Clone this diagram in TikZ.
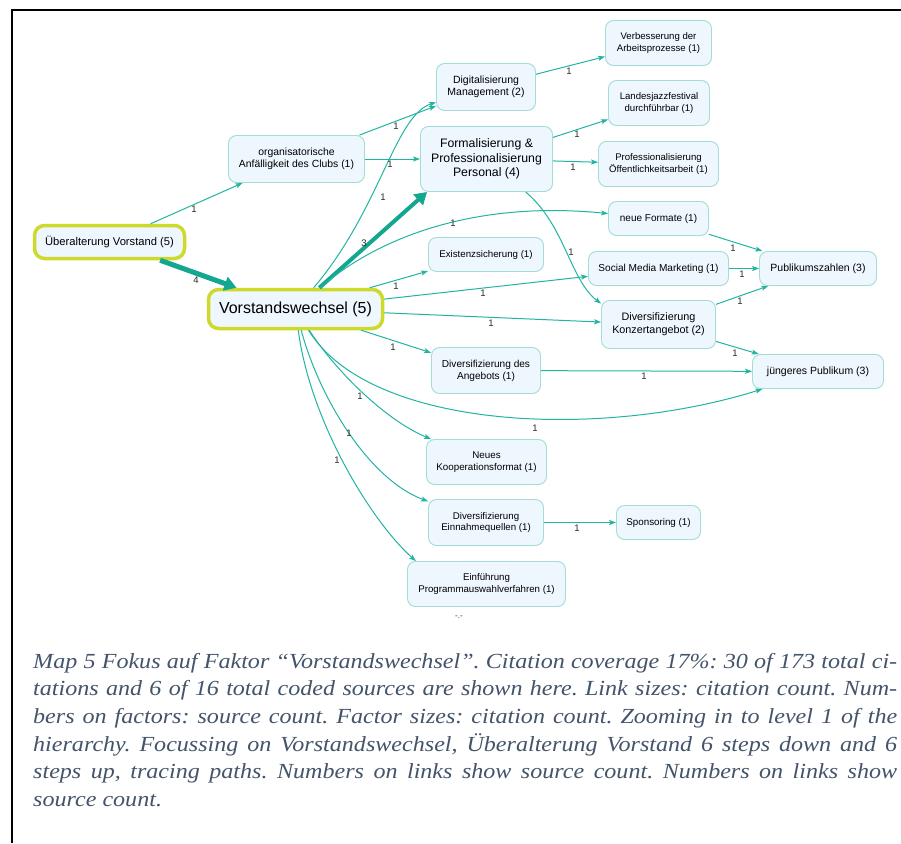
\documentclass[tikz,border=0pt]{standalone}
\usepackage{fontspec}
\setmainfont{Liberation Sans}
\newfontfamily\capfont[FakeStretch=1.12]{Liberation Serif}
\usetikzlibrary{arrows.meta}

\definecolor{linkcol}{HTML}{22B4A2}
\definecolor{linkdark}{HTML}{13A790}
\definecolor{boxline}{HTML}{A3DDD6}
\definecolor{boxfill}{HTML}{EEF6FE}
\definecolor{focuscol}{HTML}{CDD92B}
\definecolor{captext}{HTML}{44546A}
\definecolor{lblcol}{HTML}{2A2A2A}

\tikzset{
  factor/.style={draw=boxline, fill=boxfill, rounded corners=8pt, line width=0.9pt,
    align=center, inner sep=0pt, font=\fontsize{9.7}{11.6}\selectfont},
  focusfactor/.style={factor, draw=focuscol, line width=3.5pt, rounded corners=10pt},
  link/.style={draw=linkcol, line width=1pt,
    -{Stealth[length=7pt,width=5pt,inset=1.5pt]}},
  heavylink/.style={draw=linkdark, line width=#1,
    -{Triangle[length=12pt,width=14pt]}},
  lbl/.style={font=\fontsize{9.5}{9.5}\selectfont, text=lblcol, inner sep=0pt},
}

\begin{document}
\begin{tikzpicture}[x=1pt,y=-1pt]
\useasboundingbox (0,0) rectangle (901,843);
\fill[white] (0,0) rectangle (901,843);

% frame
\draw[line width=2.4pt] (12,843) -- (12,10) -- (901,10);

% factors
\node[focusfactor, minimum width=150pt, minimum height=33pt, font=\fontsize{11.2}{13}\selectfont] (ueber) at (109.5,242) {Überalterung Vorstand (5)};
\node[focusfactor, minimum width=174pt, minimum height=39pt, font=\fontsize{16}{19}\selectfont] (vw) at (295.5,309) {Vorstandswechsel (5)};
\node[factor, minimum width=136pt, minimum height=47pt, font=\fontsize{10.4}{12.6}\selectfont] (org) at (296.5,159) {organisatorische\\Anfälligkeit des Clubs (1)};
\node[factor, minimum width=99pt, minimum height=47pt, font=\fontsize{10.5}{12.4}\selectfont] (dig) at (486,87) {Digitalisierung\\Management (2)};
\node[factor, minimum width=132pt, minimum height=65pt, font=\fontsize{12.3}{14.7}\selectfont] (form) at (486.5,159) {Formalisierung \&\\Professionalisierung\\Personal (4)};
\node[factor, minimum width=106pt, minimum height=45pt, font=\fontsize{9.6}{11.6}\selectfont] (verb) at (658.5,43) {Verbesserung der\\Arbeitsprozesse (1)};
\node[factor, minimum width=101pt, minimum height=45pt, font=\fontsize{9.6}{11.6}\selectfont] (land) at (659,103) {Landesjazzfestival\\durchführbar (1)};
\node[factor, minimum width=120pt, minimum height=45pt, font=\fontsize{9.6}{11.6}\selectfont] (prof) at (658.5,164) {Professionalisierung\\Öffentlichkeitsarbeit (1)};
\node[factor, minimum width=100pt, minimum height=34pt, font=\fontsize{10}{12}\selectfont] (neue) at (658.5,218.5) {neue Formate (1)};
\node[factor, minimum width=115pt, minimum height=34pt] (exist) at (486,254.5) {Existenzsicherung (1)};
\node[factor, minimum width=140pt, minimum height=34pt, font=\fontsize{10.1}{12}\selectfont] (smm) at (658.5,268.5) {Social Media Marketing (1)};
\node[factor, minimum width=117pt, minimum height=34pt, font=\fontsize{10.5}{12.4}\selectfont] (pub) at (818,268.5) {Publikumszahlen (3)};
\node[factor, minimum width=114pt, minimum height=48pt, font=\fontsize{10.8}{12.8}\selectfont] (konz) at (658.5,324.5) {Diversifizierung\\Konzertangebot (2)};
\node[factor, minimum width=109pt, minimum height=46pt, font=\fontsize{10.1}{12}\selectfont] (angeb) at (486,370.5) {Diversifizierung des\\Angebots (1)};
\node[factor, minimum width=131pt, minimum height=34pt, font=\fontsize{10.5}{12.4}\selectfont] (jung) at (818,371.5) {jüngeres Publikum (3)};
\node[factor, minimum width=120pt, minimum height=45pt, font=\fontsize{9.8}{11.8}\selectfont] (koop) at (486.5,462) {Neues\\Kooperationsformat (1)};
\node[factor, minimum width=115pt, minimum height=46pt] (einn) at (486,522.5) {Diversifizierung\\Einnahmequellen (1)};
\node[factor, minimum width=84pt, minimum height=34pt, font=\fontsize{9.8}{11.8}\selectfont] (spons) at (658.5,522.5) {Sponsoring (1)};
\node[factor, minimum width=158pt, minimum height=45pt] (einf) at (486.5,584) {Einführung\\Programmauswahlverfahren (1)};

% links
\draw[link] (ueber) -- (org);
\draw[heavylink=5pt] (ueber) -- (vw);
\draw[link] (org) -- (dig);
\draw[link] (org) -- (form);
\draw[link] (vw) .. controls (380,210) and (395,115) .. (dig);
\draw[heavylink=4pt] (vw) -- (form.209);
\draw[link] (vw) .. controls (375,240) and (470,200) .. (neue);
\draw[link] (vw) -- (exist);
\draw[link] (vw) -- (smm);
\draw[link] (vw) -- (konz);
\draw[link] (vw) -- (angeb);
\draw[link] (vw) .. controls (370,430) and (600,440) .. (jung);
\draw[link] (vw) .. controls (335,370) and (385,420) .. (koop);
\draw[link] (vw) .. controls (320,400) and (370,480) .. (einn);
\draw[link] (vw) .. controls (310,420) and (370,520) .. (einf.162);
\draw[link] (form) -- (land);
\draw[link] (form) -- (prof);
\draw[link] (form) .. controls (565,225) and (570,280) .. (konz.160);
\draw[link] (dig) -- (verb);
\draw[link] (neue) -- (pub);
\draw[link] (smm) -- (pub);
\draw[link] (konz) -- (pub);
\draw[link] (konz) -- (jung);
\draw[link] (angeb) -- (jung);
\draw[link] (einn) -- (spons);

% link labels (source counts)
\node[lbl] (n01) at (194,209) {1};
\node[lbl] (n02) at (196,280) {4};
\node[lbl] (n03) at (396,126) {1};
\node[lbl] (n04) at (390,164) {1};
\node[lbl] (n05) at (383,197) {1};
\node[lbl] (n06) at (364,243) {3};
\node[lbl] (n07) at (453,223) {1};
\node[lbl] (n08) at (396,286) {1};
\node[lbl] (n09) at (483,293) {1};
\node[lbl] (n10) at (491,323) {1};
\node[lbl] (n11) at (393,347) {1};
\node[lbl] (n12) at (535,428) {1};
\node[lbl] (n13) at (360,396) {1};
\node[lbl] (n14) at (349,433) {1};
\node[lbl] (n15) at (337,460) {1};
\node[lbl] (n16) at (577,134) {1};
\node[lbl] (n17) at (573,167) {1};
\node[lbl] (n18) at (571,252) {1};
\node[lbl] (n19) at (569,71) {1};
\node[lbl] (n20) at (733,248) {1};
\node[lbl] (n21) at (742,274) {1};
\node[lbl] (n22) at (740,301) {1};
\node[lbl] (n23) at (735,353) {1};
\node[lbl] (n24) at (644,376) {1};
\node[lbl] (n25) at (577,528) {1};

\node[lbl, font=\fontsize{8}{8}\selectfont] (dots) at (459,617) {-.-};

% caption
\node[anchor=north west, inner sep=0pt, text width=864pt, align=justify, text=captext,
  font=\capfont\itshape\fontsize{21.5}{27.6}\selectfont] (caption) at (33,653)
{\frenchspacing\hyphenpenalty=10000 \pretolerance=-1 \tolerance=10000
Map 5 Fokus auf Faktor “Vorstandswechsel”. Citation coverage 17\%: 30 of 173 total ci-\linebreak
tations and 6 of 16 total coded sources are shown here. Link sizes: citation count. Num-\linebreak
bers on factors: source count. Factor sizes: citation count. Zooming in to level 1 of the\linebreak
hierarchy. Focussing on Vorstandswechsel, Überalterung Vorstand 6 steps down and 6\linebreak
steps up, tracing paths. Numbers on links show source count. Numbers on links show\linebreak
source count.};
\end{tikzpicture}
\end{document}
